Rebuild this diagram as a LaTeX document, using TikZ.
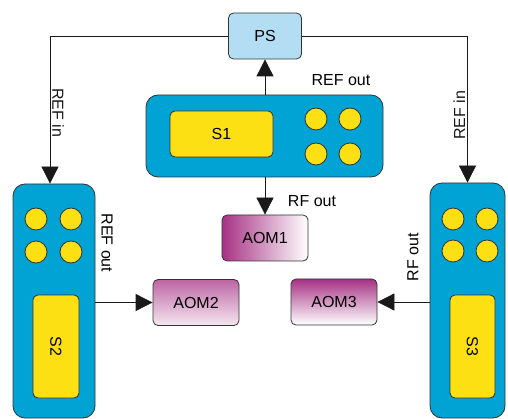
\documentclass[tikz,border=0pt]{standalone}
\usepackage{fontspec}
\setmainfont{Liberation Sans}
\usetikzlibrary{arrows.meta}
\definecolor{unitblue}{RGB}{0,163,212}
\definecolor{psblue}{RGB}{179,221,242}
\definecolor{screenyellow}{RGB}{252,224,20}
\definecolor{aompurple}{RGB}{166,50,132}
\tikzset{unit box/.style={draw=black!80,fill=unitblue,rounded corners=12pt,line width=0.8pt,inner sep=0pt}}
\tikzset{screen/.style={draw=black!80,fill=screenyellow,rounded corners=5pt,line width=0.8pt,inner sep=0pt},
		 knob/.style={circle,draw=black!80,fill=screenyellow,line width=0.8pt,minimum size=22pt,inner sep=0pt}}
\tikzset{aom box/.style={draw=black!80,rounded corners=5pt,line width=0.8pt,minimum width=86pt,minimum height=46pt,inner sep=0pt},
		 sig/.style={-{Triangle[length=17pt,width=17pt]},line width=0.8pt,black!90}}

\begin{document}
\begin{tikzpicture}[x=1pt,y=-1pt,font=\fontsize{16}{18}\selectfont]
	\useasboundingbox (0,0) rectangle (508,419);

	% phase stabiliser
	\node[draw=black!80,fill=psblue,rounded corners=5pt,line width=0.8pt,
		minimum width=73pt,minimum height=46pt] (PS) at (265,36) {PS};

	% synthesisers
	\node[unit box,minimum width=237pt,minimum height=82pt] (S1) at (264.5,136) {};
	\node[screen,minimum width=103pt,minimum height=46pt] (S1screen) at (221.5,134) {S1};
	\foreach \cx/\cy [count=\i] in {316/119,350/119,316/154,350/154}
		\node[knob] (s1k\i) at (\cx,\cy) {};

	\node[unit box,minimum width=82pt,minimum height=234pt] (S2) at (54,301) {};
	\node[screen,minimum width=46pt,minimum height=103pt] (S2screen) at (56,346.5) {};
	\node[rotate=-90] at (S2screen) {S2};
	\foreach \cx/\cy [count=\i] in {36/219,71/219,36/252,71/252}
		\node[knob] (s2k\i) at (\cx,\cy) {};

	\node[unit box,minimum width=75pt,minimum height=235pt] (S3) at (467.5,300.5) {};
	\node[screen,minimum width=45pt,minimum height=103pt] (S3screen) at (472.5,346.5) {};
	\node[rotate=-90] at (S3screen) {S3};
	\foreach \cx/\cy [count=\i] in {453/219,487/219,453/251,487/251}
		\node[knob] (s3k\i) at (\cx,\cy) {};

	% modulators
	\node[aom box,left color=aompurple,right color=white] (AOM1) at (265,238) {AOM1};
	\node[aom box,top color=aompurple!75,bottom color=aompurple!12] (AOM2) at (196,302.5) {AOM2};
	\node[aom box,top color=aompurple,bottom color=white] (AOM3) at (334,302) {AOM3};

	% reference and rf lines
	\draw[sig] (PS.west) -| node[pos=0.76,rotate=-90,anchor=south,inner sep=2pt] {REF in} ([xshift=-4pt]S2.north);
	\draw[sig] (PS.east) -| node[pos=0.77,rotate=90,anchor=south,inner sep=2pt] {REF in} (S3.north);
	\draw[sig] (S1.north -| PS) -- (PS.south);
	\draw[sig] (S1.south -| AOM1) -- (AOM1.north);
	\draw[sig] (S2.east |- AOM2) -- (AOM2.west);
	\draw[sig] (S3.west |- AOM3) -- (AOM3.east);

	\node (s1ref) at (341,80) {REF out};
	\node (s1rf) at (312,201) {RF out};
	\node[rotate=-90] (s2ref) at (107,243) {REF out};
	\node[rotate=90] (s3rf) at (413,257) {RF out};
\end{tikzpicture}
\end{document}
